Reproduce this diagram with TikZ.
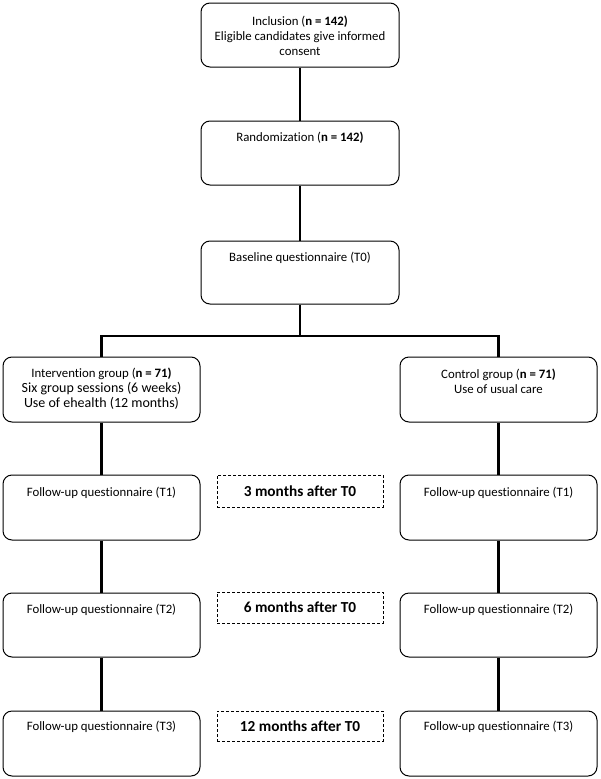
\documentclass[tikz,border=0pt]{standalone}
\usepackage{fontspec}
\setmainfont{Carlito}[Ligatures=NoCommon]
\begin{document}
\begin{tikzpicture}[x=1pt,y=-1pt,
  box/.style={draw, rounded corners=9pt, line width=1pt, inner sep=0pt},
  dbox/.style={draw, densely dashed, line width=0.8pt, inner sep=0pt, minimum width=166pt},
  conn/.style={line width=2.4pt},
  small/.style={inner sep=0pt, align=center, anchor=north, font=\fontsize{12.8}{15}\selectfont},
  big/.style={inner sep=0pt, align=center, font=\fontsize{15.3}{17}\selectfont\bfseries}]
\useasboundingbox (0,0) rectangle (600,779);
% boxes
\node[box, minimum width=198pt, minimum height=64pt] (inc) at (300,35) {};
\node[box, minimum width=198pt, minimum height=64pt] (rand) at (300,153) {};
\node[box, minimum width=198pt, minimum height=63pt] (base) at (300,272.5) {};
\node[box, minimum width=197pt, minimum height=65pt] (int) at (101.5,389.5) {};
\node[box, minimum width=197pt, minimum height=65pt] (ctrl) at (498.5,389.5) {};
\node[box, minimum width=197pt, minimum height=65pt] (l1) at (101.5,507.5) {};
\node[box, minimum width=197pt, minimum height=64pt] (l2) at (101.5,625) {};
\node[box, minimum width=197pt, minimum height=65pt] (l3) at (101.5,743.5) {};
\node[box, minimum width=197pt, minimum height=65pt] (r1) at (498.5,507.5) {};
\node[box, minimum width=197pt, minimum height=64pt] (r2) at (498.5,625) {};
\node[box, minimum width=197pt, minimum height=65pt] (r3) at (498.5,743.5) {};
\node[dbox, minimum height=32pt] (d1) at (300,491) {};
\node[dbox, minimum height=31pt] (d2) at (300,607.5) {};
\node[dbox, minimum height=30pt] (d3) at (300,726) {};
% texts
\node[small] (tinc) at (300,15.5) {Inclusion (\textbf{n = 142)}\\Eligible candidates give informed\\consent};
\node[small] (trand) at (300,132) {Randomization (\textbf{n = 142)}};
\node[small] (tbase) at (300,252) {Baseline questionnaire (T0)};
\node[small] (tint) at (101.5,368) {Intervention group (\textbf{n = 71)}\\{\fontsize{14}{15}\selectfont Six group sessions (6 weeks)}\\{\fontsize{14}{15}\selectfont Use of ehealth (12 months)}};
\node[small] (tctrl) at (498.5,369) {Control group (\textbf{n = 71)}\\Use of usual care};
\node[small] (tl1) at (101.5,487) {Follow-up questionnaire (T1)};
\node[small] (tl2) at (101.5,604) {Follow-up questionnaire (T2)};
\node[small] (tl3) at (101.5,721) {Follow-up questionnaire (T3)};
\node[small] (tr1) at (498.5,487) {Follow-up questionnaire (T1)};
\node[small] (tr2) at (498.5,604) {Follow-up questionnaire (T2)};
\node[small] (tr3) at (498.5,721) {Follow-up questionnaire (T3)};
\node[big] (td1) at (d1) {3 months after T0};
\node[big] (td2) at (d2) {6 months after T0};
\node[big] (td3) at (d3) {12 months after T0};
% connectors
\coordinate (split) at (300,336);
\draw[conn] (inc) -- (rand);
\draw[conn] (rand) -- (base);
\draw[conn] (base) -- (split);
\draw[conn] (int.north) |- (split) -| (ctrl.north);
\draw[conn] (int) -- (l1);
\draw[conn] (l1) -- (l2);
\draw[conn] (l2) -- (l3);
\draw[conn] (ctrl) -- (r1);
\draw[conn] (r1) -- (r2);
\draw[conn] (r2) -- (r3);
\end{tikzpicture}
\end{document}
